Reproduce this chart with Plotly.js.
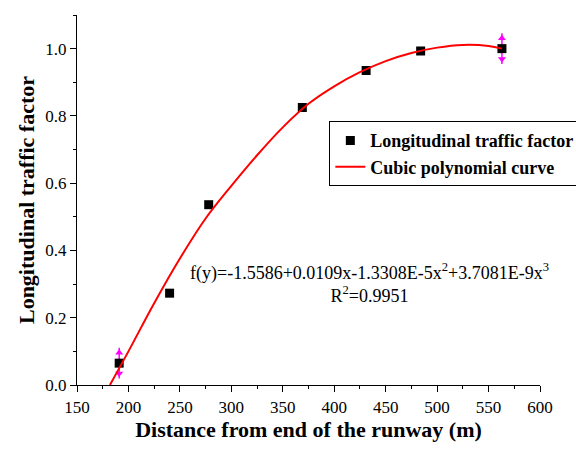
<!DOCTYPE html>
<html>
<head>
<meta charset="utf-8">
<script src="https://cdn.plot.ly/plotly-3.0.1.min.js"></script>
<style>html,body{margin:0;padding:0;background:#fff;}#chart{width:576px;height:449px;}</style>
</head>
<body>
<div id="chart"></div>
<script>
const distance = [191, 240, 278, 369, 431, 484, 563];
const factor = [0.065, 0.273, 0.536, 0.825, 0.935, 0.993, 1.0];
// Error bars only on first and last point
const errDistance = [191, 563];
const errFactor = [0.065, 1.0];
const errSize = [0.046, 0.046];
// Fitted curve
const curveX = [182, 200, 225, 250, 275, 300, 325, 350, 375, 400, 425, 450, 475, 500, 525, 550, 563];
const curveY = [0, 0.100, 0.243, 0.376, 0.495, 0.592, 0.683, 0.766, 0.836, 0.888, 0.930, 0.963, 0.987, 1.003, 1.011, 1.008, 1.0];
const xTicks = [150, 200, 250, 300, 350, 400, 450, 500, 550, 600];
const yTicks = [0.0, 0.2, 0.4, 0.6, 0.8, 1.0];

const serif = 'Liberation Serif, Times New Roman, serif';
const magenta = '#FF00FF';
const arrowInset = 0.015;

const traces = [
  {
    x: errDistance, y: errFactor, type: 'scatter', mode: 'markers',
    marker: {size: 1, color: 'rgba(0,0,0,0)'},
    error_y: {type: 'data', array: errSize, visible: true, color: magenta, thickness: 1.5, width: 0},
    showlegend: false, hoverinfo: 'skip'
  },
  {
    x: errDistance, y: errFactor.map((v, i) => v + errSize[i] - arrowInset),
    type: 'scatter', mode: 'markers',
    marker: {symbol: 'triangle-up', size: 7, color: magenta},
    showlegend: false, hoverinfo: 'skip'
  },
  {
    x: errDistance, y: errFactor.map((v, i) => v - errSize[i] + arrowInset),
    type: 'scatter', mode: 'markers',
    marker: {symbol: 'triangle-down', size: 7, color: magenta},
    showlegend: false, hoverinfo: 'skip'
  },
  {
    x: distance, y: factor, type: 'scatter', mode: 'markers',
    name: 'Longitudinal traffic factor',
    marker: {symbol: 'square', size: 9, color: '#000'}
  },
  {
    x: curveX, y: curveY, type: 'scatter', mode: 'lines',
    name: 'Cubic polynomial curve',
    line: {color: '#FF0000', width: 2, shape: 'spline', smoothing: 1}
  }
];

const layout = {
  width: 576, height: 449,
  margin: {l: 77, r: 36, t: 15, b: 64, autoexpand: false},
  paper_bgcolor: '#fff', plot_bgcolor: '#fff',
  font: {family: serif, color: '#000', size: 16},
  showlegend: true,
  legend: {
    x: 0.545, y: 0.713, xanchor: 'left', yanchor: 'top',
    bgcolor: '#fff', bordercolor: '#000', borderwidth: 1,
    font: {family: serif, size: 18, color: '#000', weight: 'bold'},
    tracegroupgap: 0, itemwidth: 30
  },
  xaxis: {
    range: [150, 600], tickvals: xTicks, ticktext: xTicks.map(String),
    showgrid: false, zeroline: false, showline: true, linecolor: '#000', linewidth: 1.2,
    ticks: 'outside', ticklen: 6, tickcolor: '#000', tickfont: {family: serif, size: 17},
    minor: {dtick: 25, tick0: 150, ticks: 'outside', ticklen: 3, tickcolor: '#000', showgrid: false},
    title: {text: '<b>Distance from end of the runway (m)</b>', font: {family: serif, size: 22}, standoff: 6}
  },
  yaxis: {
    range: [0, 1.1], tickvals: yTicks, ticktext: yTicks.map(v => v.toFixed(1)),
    showgrid: false, zeroline: false, showline: true, linecolor: '#000', linewidth: 1.2,
    ticks: 'outside', ticklen: 6, tickcolor: '#000', tickfont: {family: serif, size: 17},
    minor: {dtick: 0.1, tick0: 0, ticks: 'outside', ticklen: 3, tickcolor: '#000', showgrid: false},
    title: {text: '<b>Longitudinal traffic factor</b>', font: {family: serif, size: 22}, standoff: 4}
  },
  annotations: [
    {
      xref: 'paper', yref: 'paper', x: 0.632, y: 0.277, xanchor: 'center', yanchor: 'middle',
      align: 'center', showarrow: false,
      text: 'f(y)=-1.5586+0.0109x-1.3308E-5x<sup>2</sup>+3.7081E-9x<sup>3</sup><br>R<sup>2</sup>=0.9951',
      font: {family: serif, size: 18, color: '#000'}
    }
  ]
};

Plotly.newPlot('chart', traces, layout, {displayModeBar: false, staticPlot: true});
</script>
</body>
</html>
